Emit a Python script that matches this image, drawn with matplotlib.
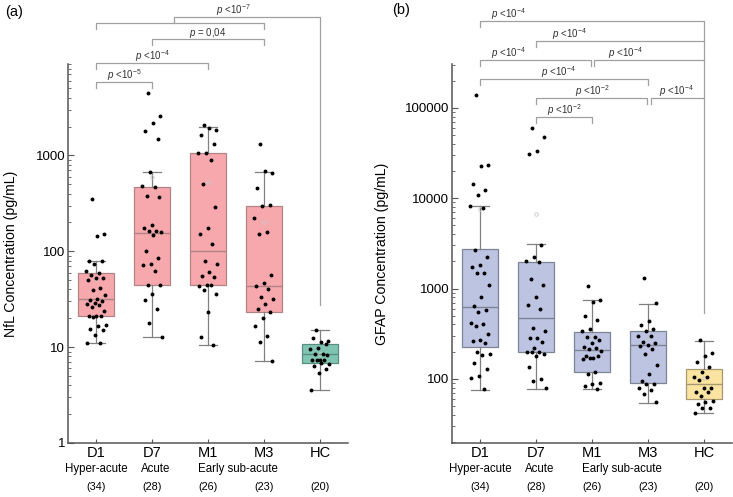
import numpy as np
import matplotlib
matplotlib.use('Agg')
import matplotlib.pyplot as plt

plt.rcParams['font.family'] = ['Liberation Sans', 'DejaVu Sans']
plt.rcParams['mathtext.fontset'] = 'custom'
plt.rcParams['mathtext.rm'] = 'Liberation Sans'
plt.rcParams['mathtext.it'] = 'Liberation Sans:italic'

groups = ['D1', 'D7', 'M1', 'M3', 'HC']
phases = ['Hyper-acute', 'Acute', 'Early sub-acute']
counts = ['(34)', '(28)', '(26)', '(23)', '(20)']

# NfL (pg/mL)
nfl_pts = [
    [347, 151, 144, 80, 80, 73, 63, 59, 57, 53, 53, 50, 41, 39, 35, 32, 31, 30, 29, 28,
     27.5, 26, 24, 21, 21, 21, 20.5, 17, 16.7, 15.4, 15, 13.3, 11, 11],
    [4480, 2570, 2200, 1790, 1500, 670, 475, 470, 375, 365, 187, 175, 164, 164, 160, 147,
     100, 85, 73, 72, 62, 44, 44, 36, 31, 25, 18, 12.7],
    [2070, 1860, 1950, 1640, 1320, 1070, 1050, 890, 507, 290, 175, 151, 119, 80, 74, 61,
     55, 54, 45, 43, 44, 39, 35.5, 23.5, 12.7, 10.5],
    [1310, 650, 680, 453, 306, 300, 225, 158, 152, 57, 47, 43, 40, 33, 32, 28, 25, 23, 20,
     16.6, 13.2, 11.4, 7.1],
    [15, 11.5, 11.3, 12.4, 10.8, 9.8, 9.6, 8.4, 8.4, 8.2, 7.4, 7.3, 7.3, 7.4, 6.7, 6.9, 6.3,
     5.9, 5.4, 3.6],
]
nfl_q1 = [21, 44, 44, 23, 6.8]
nfl_med = [31.6, 154, 100, 43, 8.4]
nfl_q3 = [60, 470, 1050, 300, 10.7]
nfl_lo = [11, 12.7, 10.5, 7.1, 3.6]
nfl_hi = [80, 665, 2000, 665, 15]

# GFAP (pg/mL)
gfap_pts = [
    [140000, 23300, 22500, 14500, 12200, 11000, 8300, 7800, 2700, 2230, 1810, 1750, 1490,
     1470, 1090, 815, 635, 585, 550, 415, 405, 385, 313, 270, 260, 250, 200, 188, 185, 150,
     130, 108, 102, 77],
    [60000, 48000, 33500, 30800, 3050, 2210, 2000, 1960, 1260, 1100, 810, 665, 590, 365,
     335, 283, 280, 255, 220, 200, 197, 200, 190, 180, 134, 100, 95, 79],
    [1070, 755, 710, 500, 445, 353, 340, 293, 290, 270, 250, 228, 222, 212, 205, 172, 180,
     177, 170, 168, 120, 112, 90, 87.5, 84, 77],
    [1300, 687, 440, 390, 355, 340, 300, 300, 256, 250, 240, 233, 214, 190, 143, 113, 95,
     88, 88, 80, 76, 68, 55],
    [266, 191, 180, 152, 136, 119, 106, 104, 97, 79, 79, 72, 72, 64, 57, 55, 53, 47, 48, 42],
]
gfap_q1 = [227, 200, 120, 90, 60]
gfap_med = [617, 476, 210, 236, 88]
gfap_q3 = [2710, 1990, 333, 340, 130]
gfap_lo = [76, 78, 77, 54, 42]
gfap_hi = [8300, 3100, 750, 680, 265]


def draw_panel(ax, pts, q1, med, q3, lo, hi, colors, edges):
    stats = []
    for i in range(5):
        stats.append(dict(med=med[i], q1=q1[i], q3=q3[i], whislo=lo[i], whishi=hi[i],
                          mean=np.mean(pts[i]), fliers=[]))
    bp = ax.bxp(stats, positions=range(5), widths=0.64, patch_artist=True,
                showmeans=True, showfliers=False,
                whiskerprops=dict(color='#808080', lw=0.9),
                capprops=dict(color='#808080', lw=0.9),
                meanprops=dict(marker='o', markersize=2.5, markerfacecolor='none',
                               markeredgecolor='#c8c8c8', markeredgewidth=0.6),
                manage_ticks=False)
    for i, b in enumerate(bp['boxes']):
        b.set_facecolor(colors[i])
        b.set_edgecolor(edges[i])
        b.set_linewidth(0.9)
        b.set_zorder(2)
    for i, m in enumerate(bp['medians']):
        m.set_color(edges[i])
        m.set_linewidth(1.0)
    for c in bp['caps']:
        xd = c.get_xdata()
        mid = (xd[0] + xd[1]) / 2
        c.set_xdata([mid - 0.16, mid + 0.16])
    for i in range(5):
        n = len(pts[i])
        jit = ((np.arange(n) * 0.618034 + 0.3) % 1.0 - 0.5) * 0.36
        ax.plot(i + jit, pts[i], 'o', ms=1.8, color='black', zorder=4)
    ax.set_yscale('log')
    ax.set_xlim(-0.5, 4.5)
    ax.set_xticks(range(5))
    ax.set_xticklabels(groups, fontsize=10.5)
    for s in ['top', 'right']:
        ax.spines[s].set_visible(False)
    for s in ['left', 'bottom']:
        ax.spines[s].set_color('#555555')
        ax.spines[s].set_linewidth(1.1)
    ax.tick_params(axis='both', which='both', direction='in', colors='#555555',
                   labelcolor='black')
    ax.tick_params(axis='y', which='major', length=4.5, labelsize=9.5, pad=2)
    ax.tick_params(axis='y', which='minor', length=2.5)
    ax.tick_params(axis='x', length=3, pad=2)
    tr = ax.get_xaxis_transform()
    ax.text(0, -0.068, phases[0], transform=tr, ha='center', va='center', fontsize=8.3)
    ax.text(1.07, -0.068, phases[1], transform=tr, ha='center', va='center', fontsize=8.3)
    ax.text(2.53, -0.068, phases[2], transform=tr, ha='center', va='center', fontsize=8.3)
    for i in range(5):
        ax.text(i, -0.115, counts[i], transform=tr, ha='center', va='center', fontsize=7.8)


def line(ax, xs, ys):
    ax.plot(xs, ys, color='#a0a0a0', lw=0.9, transform=ax.get_xaxis_transform(),
            clip_on=False, zorder=1)


def bracket(ax, x1, x2, y, d=0.016, left=True, right=True):
    xs, ys = [], []
    if left:
        xs.append(x1); ys.append(y - d)
    xs += [x1, x2]; ys += [y, y]
    if right:
        xs.append(x2); ys.append(y - d)
    line(ax, xs, ys)


def ptext(ax, x, y, s):
    ax.text(x, y, s, transform=ax.get_xaxis_transform(), ha='center', va='center',
            fontsize=7, color='#333333')


fig = plt.figure(figsize=(7.33, 4.97), dpi=100)
ax1 = fig.add_axes([0.0928, 0.1087, 0.382, 0.7626])
ax2 = fig.add_axes([0.6166, 0.1087, 0.382, 0.7626])

draw_panel(ax1, nfl_pts, nfl_q1, nfl_med, nfl_q3, nfl_lo, nfl_hi,
           ['#f7a8ac'] * 4 + ['#80c5b2'], ['#b08487'] * 4 + ['#5a8f80'])
ax1.set_ylim(1, 9000)
ax1.set_yticks([1, 10, 100, 1000])
ax1.set_yticklabels(['1', '10', '100', '1000'])
ax1.set_ylabel('NfL Concentration (pg/mL)', fontsize=10.2)
ax1.yaxis.set_label_coords(-0.18, 0.5)

draw_panel(ax2, gfap_pts, gfap_q1, gfap_med, gfap_q3, gfap_lo, gfap_hi,
           ['#bcc4e2'] * 4 + ['#fbe3a2'], ['#7f8494'] * 4 + ['#a89a70'])
ax2.set_ylim(19.5, 3.07e5)
ax2.set_yticks([100, 1000, 10000, 100000])
ax2.set_yticklabels(['100', '1000', '10000', '100000'])
ax2.set_ylabel('GFAP Concentration (pg/mL)', fontsize=10.2)
ax2.yaxis.set_label_coords(-0.225, 0.5)

# significance brackets, panel (a)
bracket(ax1, 0, 1, 0.9525)
ptext(ax1, 0.5, 0.970, r'$p$ <10$^{-5}$')
bracket(ax1, 0, 2, 1.0026)
ptext(ax1, 1.0, 1.020, r'$p$ <10$^{-4}$')
bracket(ax1, 1, 3, 1.066)
ptext(ax1, 2.0, 1.081, r'$p$ = 0,04')
bracket(ax1, 0, 3, 1.108)
line(ax1, [1.39, 1.39, 4, 4], [1.108, 1.124, 1.124, 0.364])
ptext(ax1, 2.45, 1.142, r'$p$ <10$^{-7}$')

# significance brackets, panel (b)
line(ax2, [0, 0, 4, 4], [1.0976, 1.1135, 1.1135, 0.343])
ptext(ax2, 0.5, 1.131, r'$p$ <10$^{-4}$')
bracket(ax2, 1, 4, 1.0607, right=False)
ptext(ax2, 1.6, 1.078, r'$p$ <10$^{-4}$')
bracket(ax2, 0, 1.98, 1.0106)
ptext(ax2, 0.5, 1.028, r'$p$ <10$^{-4}$')
bracket(ax2, 2.04, 4, 1.0106, right=False)
ptext(ax2, 2.6, 1.028, r'$p$ <10$^{-4}$')
bracket(ax2, 0, 3, 0.960)
ptext(ax2, 1.4, 0.978, r'$p$ <10$^{-4}$')
bracket(ax2, 1, 2.98, 0.910)
ptext(ax2, 2.0, 0.928, r'$p$ <10$^{-2}$')
bracket(ax2, 3.05, 4, 0.910, right=False)
ptext(ax2, 3.5, 0.928, r'$p$ <10$^{-4}$')
bracket(ax2, 1, 2, 0.860)
ptext(ax2, 1.5, 0.877, r'$p$ <10$^{-2}$')

fig.text(5 / 733, 1 - 12 / 497, '(a)', fontsize=10.5, va='center', ha='left')
fig.text(392 / 733, 1 - 10 / 497, '(b)', fontsize=10.5, va='center', ha='left')

fig.savefig('out.png', dpi=100)
